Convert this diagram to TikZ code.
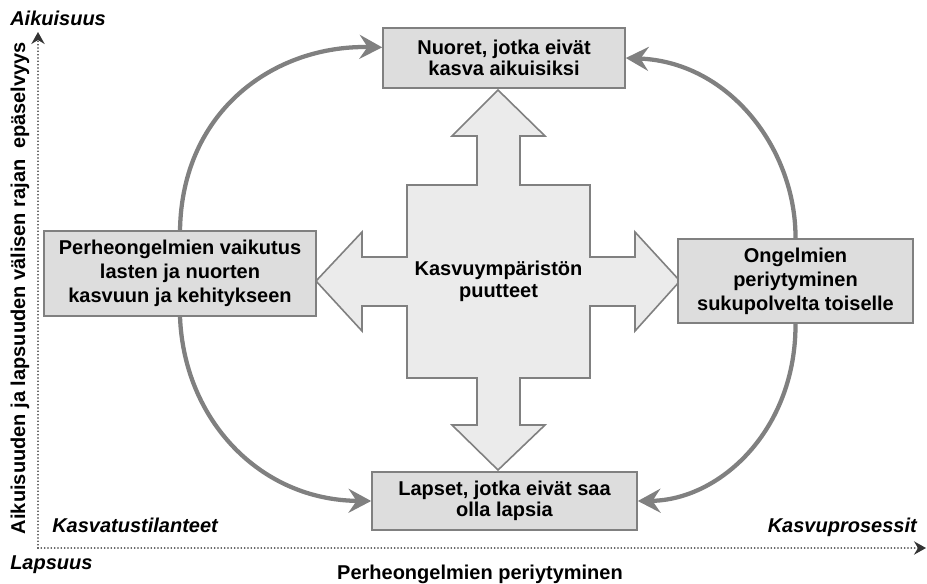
\documentclass[tikz,border=0pt]{standalone}
\usepackage{fontspec}
\setmainfont{Liberation Sans}
\usetikzlibrary{arrows.meta}

\definecolor{reuna}{HTML}{808080}
\definecolor{laatikkovari}{HTML}{DDDDDD}
\definecolor{ristivari}{HTML}{EBEBEB}
\definecolor{kaarivari}{HTML}{808080}
\definecolor{akselivari}{HTML}{333333}

\begin{document}
\begin{tikzpicture}[x=0.75pt,y=-0.75pt,
    laatikko/.style={draw=reuna,fill=laatikkovari,line width=1.2pt,align=center,inner sep=0pt,
      font=\bfseries\fontsize{15}{18}\selectfont},
    kaksirivi/.style={font=\bfseries\fontsize{15}{15.5}\selectfont},
    kaari/.style={draw=kaarivari,line width=3.2pt,-{Stealth[length=17pt,width=18pt,inset=6pt]}},
    akseli/.style={draw=akselivari,line width=1.3pt,line cap=round,dash pattern=on 0pt off 2.5pt,
      -{Stealth[length=9pt,width=10pt,inset=3pt]}},
    otsikko/.style={font=\bfseries\itshape\fontsize{15}{18}\selectfont,inner sep=0pt}]
    \useasboundingbox (0,0) rectangle (927,583);

    % akselit
    \coordinate (origo) at (38,548);
    \coordinate (ylos) at (38,32);
    \coordinate (oikea) at (926,548);
    \draw[akseli] (origo) -- (ylos);
    \draw[akseli] (origo) -- (oikea);
    \node[otsikko,anchor=base west] (aikuisuus) at (10,25) {Aikuisuus};
    \node[otsikko,anchor=base west] (lapsuus) at (10,569) {Lapsuus};
    \node[otsikko,anchor=base west] (kasvatus) at (52,532) {Kasvatustilanteet};
    \node[otsikko,anchor=base east] (kasvu) at (917,532) {Kasvuprosessit};
    \node[anchor=base,inner sep=0pt,font=\bfseries\fontsize{15}{18}\selectfont] (periytyminen) at (480,579)
      {Perheongelmien periytyminen};
    \node[rotate=90,anchor=base,inner sep=0pt,font=\bfseries\fontsize{15}{18}\selectfont] (raja) at (25,288)
      {Aikuisuuden ja lapsuuden välisen rajan\hspace{8pt}epäselvyys};

    % risti
    \draw[draw=reuna,fill=ristivari,line width=1.2pt]
      (498,90) -- (545,136) -- (520,136) -- (520,185) -- (590,185) -- (590,257) -- (635,257)
      -- (635,232) -- (680,281) -- (635,331) -- (635,306) -- (590,306) -- (590,378)
      -- (520,378) -- (520,425) -- (545,425) -- (498,470) -- (452,425) -- (477,425)
      -- (477,378) -- (407,378) -- (407,306) -- (362,306) -- (362,331) -- (316,281)
      -- (362,232) -- (362,257) -- (407,257) -- (407,185) -- (477,185) -- (477,136)
      -- (452,136) -- cycle;
    \node[align=center,font=\bfseries\fontsize{15}{16.5}\selectfont] (puutteet) at (498.5,281)
      {Kasvuympäristön\\puutteet};

    % laatikot
    \node[laatikko,kaksirivi,minimum width=181.5pt,minimum height=45pt] (nuoret) at (504,58)
      {Nuoret, jotka eivät\\kasva aikuisiksi};
    \node[laatikko,minimum width=204pt,minimum height=63.75pt] (perhe) at (180,273.5)
      {Perheongelmien vaikutus\\lasten ja nuorten\\kasvuun ja kehitykseen};
    \node[laatikko,minimum width=176.25pt,minimum height=63pt] (ongelmat) at (795.5,281)
      {Ongelmien\\periytyminen\\sukupolvelta toiselle};
    \node[laatikko,kaksirivi,minimum width=198.75pt,minimum height=43.5pt] (lapset) at (504.5,501)
      {Lapset, jotka eivät saa\\olla lapsia};

    % kaaret
    \draw[kaari] (perhe.north) .. controls (182,110) and (275,45) .. ([yshift=8pt]nuoret.west);
    \draw[kaari] (perhe.south) .. controls (184,420) and (260,500) .. (lapset.west);
    \draw[kaari] (ongelmat.north) .. controls (796,150) and (730,62) .. (nuoret.east);
    \draw[kaari] (ongelmat.south) .. controls (796,430) and (720,500) .. (lapset.east);
  \end{tikzpicture}
\end{document}
